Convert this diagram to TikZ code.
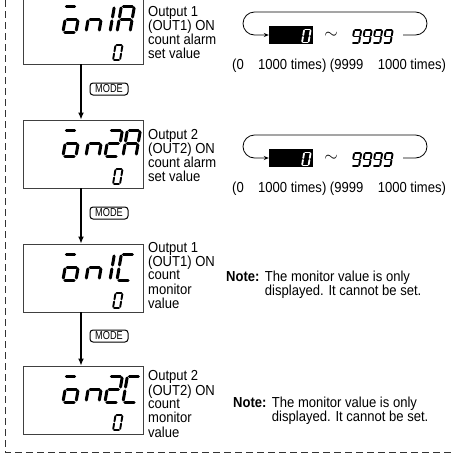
\documentclass[tikz,border=0pt]{standalone}
\usepackage{fontspec}
\setmainfont{Liberation Sans}
\usetikzlibrary{arrows.meta, positioning}

% narrow text as in the manual
\newcommand{\slim}[1]{\scalebox{0.9}[1]{#1}}

% one character of the segment display: [colour]{x of lower left}{top}{height}{width}{line width}{segments}
\newcommand{\lcdchar}[7][black]{%
  \begin{scope}[shift={(#2+0.17*#4,#3)}, xslant=0.17, draw=#1, line width=#6, line cap=round]
    \pgfmathsetmacro\gh{#4}\pgfmathsetmacro\gw{#5}
    \pgfmathsetmacro\gm{#4/2}\pgfmathsetmacro\gg{0.075*#4}
    \foreach \s in {#7}{\csname lcd\s\endcsname}
  \end{scope}}
\newcommand{\lcda}{\draw (\gg,0) -- (\gw-\gg,0);}
\newcommand{\lcdb}{\draw (\gw,\gg) -- (\gw,\gm-\gg);}
\newcommand{\lcdc}{\draw (\gw,\gm+\gg) -- (\gw,\gh-\gg);}
\newcommand{\lcdd}{\draw (\gg,\gh) -- (\gw-\gg,\gh);}
\newcommand{\lcde}{\draw (0,\gm+\gg) -- (0,\gh-\gg);}
\newcommand{\lcdf}{\draw (0,\gg) -- (0,\gm-\gg);}
\newcommand{\lcdg}{\draw (\gg,\gm) -- (\gw-\gg,\gm);}
\newcommand{\lcdt}{\draw (-1,0) -- (0.55*\gw,0);}

\tikzset{
  dispbox/.style={draw=black!75, line width=0.9pt, minimum width=120pt, minimum height=68pt, inner sep=0pt},
  modekey/.style={draw, line width=1pt, rounded corners=3pt, minimum width=38pt, minimum height=12pt,
    inner sep=0pt, font=\fontsize{11.5}{11.5}\selectfont},
  flow/.style={line width=1.3pt, -{Latex[length=7pt,width=6pt]}},
  infotext/.style={anchor=base west, inner sep=0pt, font=\fontsize{14.5}{12}\selectfont},
  longtext/.style={infotext, font=\fontsize{14.5}{13.3}\selectfont},
  looparrow/.style={line width=0.8pt, rounded corners=11.5pt, -{Stealth[length=5pt,width=4pt]}},
  blankcell/.style={fill=black, minimum width=44pt, minimum height=18pt, inner sep=0pt},
  dashframe/.style={line width=0.8pt, dash pattern=on 7pt off 4pt, black!80},
}

\begin{document}
\begin{tikzpicture}[x=1pt, y=-1pt]
  \useasboundingbox (0,0) rectangle (453,461);

  % dashed frame
  \draw[dashframe] (5,0) -- (5,452) -- (453,452);

  % displays
  \node[dispbox] (box1) at (83,30) {};
  \node[dispbox] (box2) at (83,154) {};
  \node[dispbox] (box3) at (83,278) {};
  \node[dispbox] (box4) at (83,400) {};

  % on1A
  \lcdchar{63}{6}{26}{13}{3}{t,c,d,e,g}
  \lcdchar{86}{6}{26}{13}{3}{c,e,g}
  \lcdchar{97}{6}{26}{13}{3}{b,c}
  \lcdchar{117}{6}{26}{13}{3}{a,b,c,e,f,g}
  \lcdchar{113}{45}{15}{7}{1.9}{a,b,c,d,e,f}
  % on2A
  \lcdchar{63}{130}{26}{13}{3}{t,c,d,e,g}
  \lcdchar{86}{130}{26}{13}{3}{c,e,g}
  \lcdchar{105}{130}{26}{13}{3}{a,b,g,e,d}
  \lcdchar{123}{130}{26}{13}{3}{a,b,c,e,f,g}
  \lcdchar{113}{169}{15}{7}{1.9}{a,b,c,d,e,f}
  % on1C
  \lcdchar{63}{254}{26}{13}{3}{t,c,d,e,g}
  \lcdchar{86}{254}{26}{13}{3}{c,e,g}
  \lcdchar{97}{254}{26}{13}{3}{b,c}
  \lcdchar{117}{254}{26}{13}{3}{a,d,e,f}
  \lcdchar{113}{293}{15}{7}{1.9}{a,b,c,d,e,f}
  % on2C
  \lcdchar{63}{376}{26}{13}{3}{t,c,d,e,g}
  \lcdchar{86}{376}{26}{13}{3}{c,e,g}
  \lcdchar{105}{376}{26}{13}{3}{a,b,g,e,d}
  \lcdchar{123}{376}{26}{13}{3}{a,d,e,f}
  \lcdchar{113}{415}{15}{7}{1.9}{a,b,c,d,e,f}

  % MODE keys and arrows
  \node[modekey] (mode1) at (109,89) {\scalebox{0.8}[1]{MODE}};
  \node[modekey] (mode2) at (109,213) {\scalebox{0.8}[1]{MODE}};
  \node[modekey] (mode3) at (109,336) {\scalebox{0.8}[1]{MODE}};
  \draw[flow] ([xshift=-2pt]box1.south) -- ([xshift=-2pt]box2.north);
  \draw[flow] ([xshift=-2pt]box2.south) -- ([xshift=-2pt]box3.north);
  \draw[flow] ([xshift=-2pt]box3.south) -- ([xshift=-2pt]box4.north);

  % descriptions
  \node[infotext] (desc1) at (148,16) {\slim{\begin{tabular}[t]{@{}l@{}}Output 1\\(OUT1) ON\\count alarm\\set value\end{tabular}}};
  \node[infotext] (desc2) at (148,139) {\slim{\begin{tabular}[t]{@{}l@{}}Output 2\\(OUT2) ON\\count alarm\\set value\end{tabular}}};
  \node[longtext] (desc3) at (148,252) {\slim{\begin{tabular}[t]{@{}l@{}}Output 1\\(OUT1) ON\\count\\monitor\\value\end{tabular}}};
  \node[longtext] (desc4) at (148,380.5) {\slim{\begin{tabular}[t]{@{}l@{}}Output 2\\(OUT2) ON\\count\\monitor\\value\end{tabular}}};

  % setting ranges
  \node[blankcell] (blk1) at (291,35) {};
  \lcdchar[white]{302}{29.5}{13}{6.5}{1.8}{a,b,c,d,e,f}
  \node (tilde1) at (331,35) {\fontsize{19}{19}\selectfont$\sim$};
  \foreach \i in {0,...,3}{\lcdchar{352+10.5*\i}{30}{13}{7}{1.9}{a,b,c,d,f,g}}
  \coordinate (tail1) at (403,35);
  \draw[looparrow] (tail1) -- (427,35) -- (427,12) -- (243,12) -- (243,35) -- (blk1.west);
  \node[infotext] (span1) at (232,69) {\slim{(0\hspace{16pt}1000 times) (9999\hspace{16pt}1000 times)}};

  \node[blankcell] (blk2) at (291,158) {};
  \lcdchar[white]{302}{152.5}{13}{6.5}{1.8}{a,b,c,d,e,f}
  \node (tilde2) at (331,158) {\fontsize{19}{19}\selectfont$\sim$};
  \foreach \i in {0,...,3}{\lcdchar{352+10.5*\i}{153}{13}{7}{1.9}{a,b,c,d,f,g}}
  \coordinate (tail2) at (403,158);
  \draw[looparrow] (tail2) -- (427,158) -- (427,135) -- (243,135) -- (243,158) -- (blk2.west);
  \node[infotext] (span2) at (232,192) {\slim{(0\hspace{16pt}1000 times) (9999\hspace{16pt}1000 times)}};

  % notes
  \node[longtext] (note3) at (226,281) {\slim{\begin{tabular}[t]{@{}l@{\hspace{6pt}}l@{}}\textbf{Note:} & The monitor value is only\\ & displayed. It cannot be set.\end{tabular}}};
  \node[longtext] (note4) at (233,407) {\slim{\begin{tabular}[t]{@{}l@{\hspace{6pt}}l@{}}\textbf{Note:} & The monitor value is only\\ & displayed. It cannot be set.\end{tabular}}};
\end{tikzpicture}
\end{document}
